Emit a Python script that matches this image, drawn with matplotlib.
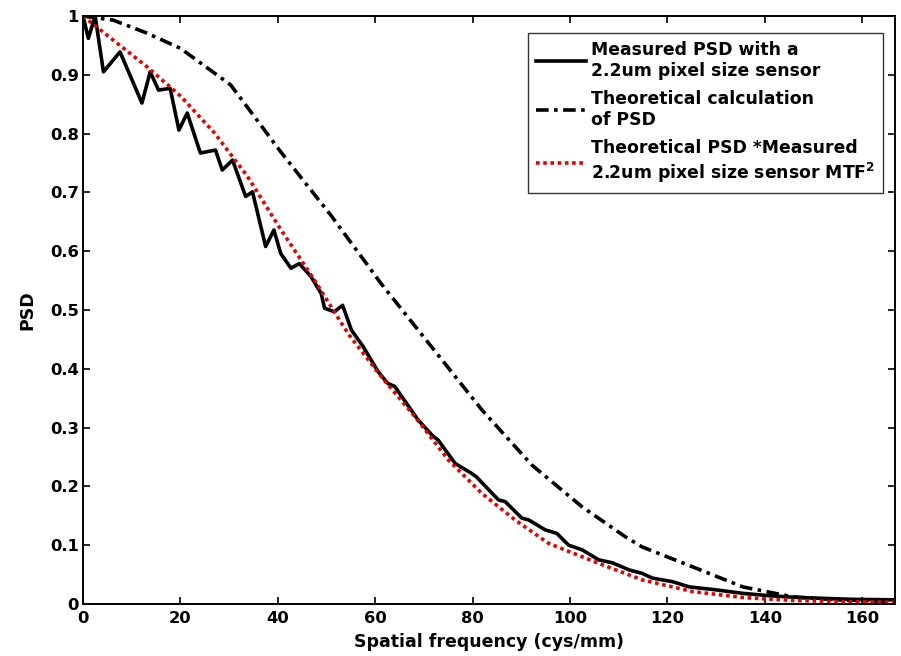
import numpy as np
import matplotlib
matplotlib.use("Agg")
import matplotlib.pyplot as plt

plt.rcParams['font.family'] = ['DejaVu Sans']
plt.rcParams['font.weight'] = 'bold'
plt.rcParams['mathtext.fontset'] = 'dejavusans'

# measured PSD (2.2um pixel sensor)
freq_meas = [0, 1.1, 2.5, 4.2, 7.6, 12.1, 13.8, 15.5, 17.9, 19.7, 21.4, 24.1, 27.2,
             28.6, 30.7, 33.4, 34.8, 37.5, 39.2, 40.6, 42.7, 44.4, 46.8, 48.9, 49.6,
             51.6, 53.3, 55.1, 57.5, 60.6, 62.6, 64.0, 68.8, 71.9, 72.9, 76.4, 79.8,
             80.8, 85.3, 86.7, 90.1, 91.5, 94.9, 97.3, 99.7, 102.5, 105.9, 108.7,
             112.1, 114.8, 116.9, 121.0, 124.5, 130, 135.5, 141, 147, 157.4, 167]
psd_meas = [1.0, 0.962, 1.0, 0.905, 0.939, 0.852, 0.905, 0.874, 0.877, 0.806, 0.835,
            0.767, 0.772, 0.738, 0.755, 0.693, 0.701, 0.608, 0.636, 0.596, 0.571,
            0.579, 0.557, 0.528, 0.503, 0.497, 0.508, 0.466, 0.438, 0.395, 0.375,
            0.370, 0.313, 0.285, 0.279, 0.239, 0.222, 0.216, 0.177, 0.174, 0.146,
            0.143, 0.126, 0.120, 0.100, 0.092, 0.075, 0.070, 0.058, 0.052, 0.044,
            0.038, 0.029, 0.024, 0.018, 0.014, 0.011, 0.008, 0.007]

# theoretical PSD
freq_theo = [0, 6.2, 13.1, 20, 30.3, 40.6, 50.9, 61.2, 71.5, 81.9, 92.2, 102.5,
             111.4, 114.8, 125.2, 135.5, 145.8, 155, 167]
psd_theo = [1.0, 0.993, 0.971, 0.945, 0.883, 0.769, 0.661, 0.545, 0.438, 0.330,
            0.236, 0.165, 0.114, 0.097, 0.063, 0.029, 0.012, 0.007, 0.004]

# theoretical PSD * sensor MTF^2
freq_mtf = [0, 6.2, 13.1, 20, 26.9, 33.7, 40.6, 47.5, 54.4, 61.2, 68.1, 75, 81.9,
            88.7, 95.6, 105.9, 114.8, 125.2, 135.5, 145.8, 156, 167]
psd_mtf = [1.0, 0.959, 0.914, 0.864, 0.802, 0.728, 0.637, 0.551, 0.460, 0.387,
           0.319, 0.245, 0.188, 0.143, 0.103, 0.069, 0.041, 0.021, 0.011, 0.006,
           0.004, 0.003]

fig = plt.figure(figsize=(9.01, 6.56), dpi=100)
ax = fig.add_axes([0.0921, 0.0793, 0.9012, 0.8963])

ax.plot(freq_meas, psd_meas, color='black', lw=2.6,
        label='Measured PSD with a\n2.2um pixel size sensor')
ax.plot(freq_theo, psd_theo, color='black', lw=2.6, linestyle=(0, (3.5, 1.5, 1, 1.5)),
        label='Theoretical calculation\nof PSD')
ax.plot(freq_mtf, psd_mtf, color='#e60000', lw=2.6, linestyle=(0, (1, 1)),
        label='Theoretical PSD *Measured\n2.2um pixel size sensor MTF$^{\\mathbf{2}}$')

ax.set_xlim(0, 166.7)
ax.set_ylim(0, 1)
ax.set_xticks(np.arange(0, 161, 20))
ax.set_yticks(np.arange(0, 1.01, 0.1))
ax.set_yticklabels(['0', '0.1', '0.2', '0.3', '0.4', '0.5', '0.6', '0.7', '0.8', '0.9', '1'])
ax.tick_params(direction='in', length=5, width=1.2, labelsize=11.8, top=True, right=True)
ax.tick_params(axis='x', pad=5)
ax.tick_params(axis='y', pad=3)
for s in ax.spines.values():
    s.set_linewidth(1.4)

ax.set_xlabel('Spatial frequency (cys/mm)', fontsize=12.5, fontweight='bold', labelpad=5)
ax.set_ylabel('PSD', fontsize=12.5, fontweight='bold', labelpad=10)

leg = ax.legend(loc='upper right', bbox_to_anchor=(0.985, 0.971), fontsize=12.4,
                frameon=True, fancybox=False, edgecolor='black', handlelength=2.9,
                handletextpad=0.3, borderpad=0.45, labelspacing=0.6, borderaxespad=0)
leg.get_frame().set_linewidth(1.0)

fig.savefig('out.png', dpi=100)
